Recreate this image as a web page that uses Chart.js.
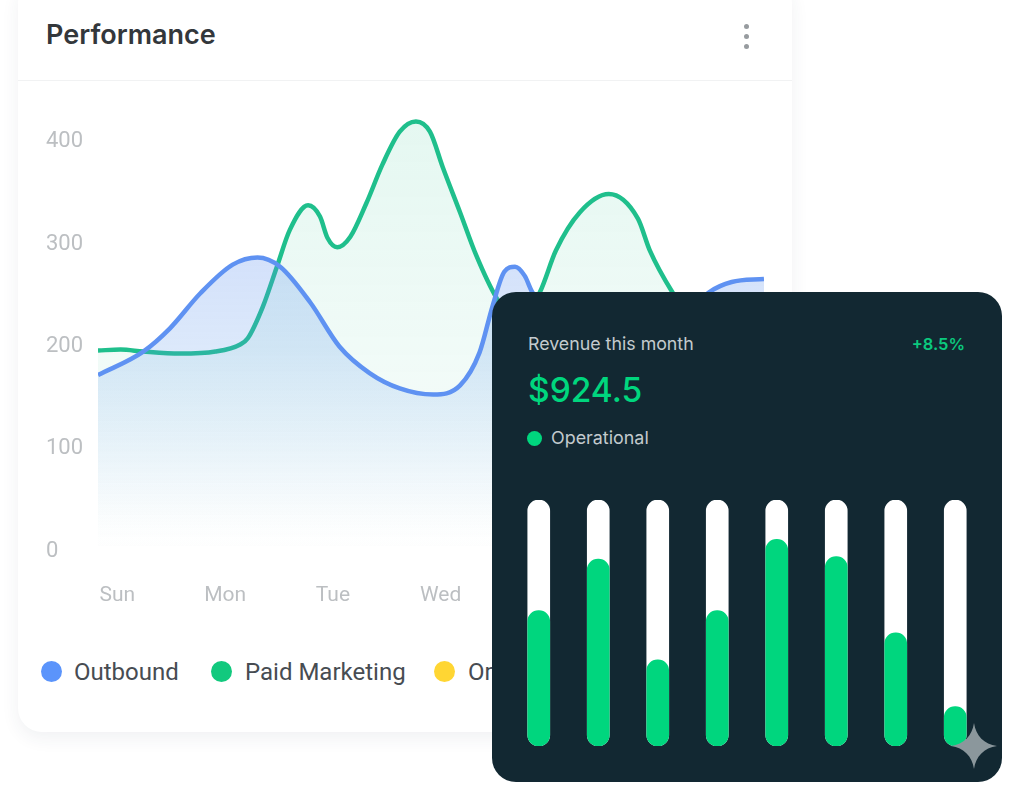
<!DOCTYPE html>
<html>
<head>
<meta charset="utf-8">
<title>Performance</title>
<script src="https://cdn.jsdelivr.net/npm/chart.js@4"></script>
<style>
  html, body { margin: 0; padding: 0; background: #fff; }
  body { position: relative; width: 1024px; height: 796px; overflow: hidden; font-family: Roboto, sans-serif; }
  .panel { position: absolute; left: 18px; top: -20px; width: 774px; height: 752px; background: #fff; border-radius: 24px; box-shadow: 0 6px 18px rgba(40, 60, 80, .07); }
  .divider { position: absolute; left: 18px; top: 80px; width: 774px; height: 1px; background: #f1f2f3; }
  .title { position: absolute; left: 46px; top: 18px; font: 600 27px/34px Inter, sans-serif; color: #33373b; }
  .kebab { position: absolute; left: 744px; top: 24px; width: 6px; }
  .kebab i { display: block; width: 5px; height: 5px; margin-bottom: 5px; border-radius: 50%; background: #979b9f; }
  #lineChart { position: absolute; left: 18px; top: 80px; }
  .legend-dot { position: absolute; top: 661px; width: 21px; height: 21px; border-radius: 50%; }
  .legend-text { position: absolute; top: 657px; font: 400 24px/30px Roboto, sans-serif; color: #474c52; white-space: nowrap; }
  .dark { position: absolute; left: 492px; top: 292px; width: 510px; height: 490px; background: #122832; border-radius: 24px; }
  #barChart { position: absolute; left: 492px; top: 490px; }
  .rev { position: absolute; left: 528px; top: 332px; font: 400 17.8px/24px Inter, sans-serif; color: #c3cbce; }
  .pct { position: absolute; right: 59px; top: 332px; font: 600 16.5px/24px Inter, sans-serif; color: #0bc97e; }
  .amount { position: absolute; left: 528px; top: 368px; font: 500 33.5px/44px Inter, sans-serif; color: #00d67e; }
  .status-dot { position: absolute; left: 527px; top: 431px; width: 15px; height: 15px; border-radius: 50%; background: #00d67e; }
  .status { position: absolute; left: 551px; top: 426px; font: 400 17.9px/24px Inter, sans-serif; color: #c3cbce; }
  .spark { position: absolute; left: 951px; top: 723px; }
</style>
</head>
<body>
<div class="panel"></div>
<div class="divider"></div>
<div class="title">Performance</div>
<div class="kebab"><i></i><i></i><i></i></div>
<canvas id="lineChart" width="774" height="540"></canvas>

<div class="legend-dot" style="left:41px;background:#5b94fb"></div>
<div class="legend-text" style="left:74px">Outbound</div>
<div class="legend-dot" style="left:211px;background:#12c97e"></div>
<div class="legend-text" style="left:245px">Paid Marketing</div>
<div class="legend-dot" style="left:434px;background:#ffd633"></div>
<div class="legend-text" style="left:468px">Organic</div>

<div class="dark"></div>
<div class="rev">Revenue this month</div>
<div class="pct">+8.5%</div>
<div class="amount">$924.5</div>
<div class="status-dot"></div>
<div class="status">Operational</div>
<canvas id="barChart" width="510" height="270"></canvas>

<svg class="spark" width="46" height="46" viewBox="0 0 46 46"><path d="M23 0C25 13 33 21 46 23C33 25 25 33 23 46C21 33 13 25 0 23C13 21 21 13 23 0Z" fill="#8b979c"/></svg>

<script>
const dayLabels = ["Sun", "Mon", "Tue", "Wed", "Thu", "Fri", "Sat"];
const dayTicks = [0, 1, 2, 3, 4, 5, 6];
const yTicks = [0, 100, 200, 300, 400];

const outboundDays = [-0.18, 0.24, 0.49, 0.77, 1.07, 1.30, 1.51, 1.79, 2.06, 2.34, 2.62, 2.93, 3.18, 3.36, 3.48, 3.59, 3.69, 3.78, 3.85, 4.29, 4.84, 5.21, 5.49, 5.70, 6];
const outboundValues = [172, 195, 218, 252, 280, 287, 278, 243, 200, 174, 159, 153, 162, 194, 239, 273, 278, 269, 253, 206, 197, 226, 253, 263, 266];

const paidDays = [-0.18, 0.03, 0.24, 0.58, 0.91, 1.14, 1.21, 1.35, 1.48, 1.60, 1.77, 1.88, 1.95, 2.04, 2.16, 2.31, 2.46, 2.62, 2.77, 2.90, 3.02, 3.18, 3.33, 3.52, 3.71, 3.92, 4.07, 4.29, 4.56, 4.83, 4.94, 5.15, 5.40, 5.68, 6];
const paidValues = [196, 197, 195, 193, 195, 202, 208, 239, 278, 314, 338, 327, 306, 297, 307, 340, 378, 410, 420, 410, 375, 331, 289, 247, 221, 253, 294, 331, 349, 325, 294, 253, 216, 202, 197];

const barLabels = ["1", "2", "3", "4", "5", "6", "7", "8"];
const barValues = [55, 76, 35, 55, 84, 77, 46, 16];
const barTrack = [100, 100, 100, 100, 100, 100, 100, 100];

function toPoints(xs, ys) {
  return xs.map((x, i) => ({ x: x, y: ys[i] }));
}

function blueFill(context) {
  const { ctx, chartArea } = context.chart;
  if (!chartArea) return "rgba(91,143,240,.2)";
  const g = ctx.createLinearGradient(0, chartArea.top, 0, chartArea.bottom);
  g.addColorStop(0.3, "rgba(90,140,240,.28)");
  g.addColorStop(0.55, "rgba(90,150,235,.21)");
  g.addColorStop(0.75, "rgba(100,155,240,.11)");
  g.addColorStop(0.94, "rgba(120,160,235,.01)");
  g.addColorStop(1, "rgba(120,160,235,0)");
  return g;
}

function greenFill(context) {
  const { ctx, chartArea } = context.chart;
  if (!chartArea) return "rgba(30,190,135,.1)";
  const g = ctx.createLinearGradient(0, chartArea.top, 0, chartArea.bottom);
  g.addColorStop(0, "rgba(30,190,135,.12)");
  g.addColorStop(0.7, "rgba(30,190,135,.05)");
  g.addColorStop(1, "rgba(30,190,135,0)");
  return g;
}

new Chart(document.getElementById("lineChart"), {
  type: "line",
  data: {
    datasets: [
      {
        label: "Outbound",
        data: toPoints(outboundDays, outboundValues),
        borderColor: "#5f92f2",
        backgroundColor: blueFill,
        borderWidth: 4.5,
        fill: "origin",
        pointRadius: 0,
        cubicInterpolationMode: "monotone"
      },
      {
        label: "Paid Marketing",
        data: toPoints(paidDays, paidValues),
        borderColor: "#1fbf8c",
        backgroundColor: greenFill,
        borderWidth: 4.5,
        fill: "origin",
        pointRadius: 0,
        cubicInterpolationMode: "monotone"
      }
    ]
  },
  options: {
    responsive: false,
    animation: false,
    layout: { padding: { left: 28, right: 28, top: 21, bottom: 0 } },
    plugins: { legend: { display: false }, tooltip: { enabled: false } },
    scales: {
      x: {
        type: "linear",
        bounds: "data",
        min: -0.18,
        max: 6,
        afterBuildTicks: axis => { axis.ticks = dayTicks.map(v => ({ value: v })); },
        afterFit: axis => { axis.height = 69; },
        // the gap under the plot comes from tickLength: a large ticks.padding also eats into the right side
        grid: { display: false, drawTicks: true, tickLength: 32 },
        border: { display: false },
        ticks: {
          callback: value => dayLabels[value],
          color: "#bcbfc2",
          font: { family: "Roboto", size: 21 },
          padding: 0,
          maxRotation: 0,
          autoSkip: false
        }
      },
      y: {
        min: 0,
        max: 440,
        afterBuildTicks: axis => { axis.ticks = yTicks.map(v => ({ value: v })); },
        afterFit: axis => { axis.width = 52; },
        grid: { display: false, drawTicks: false },
        border: { display: false },
        ticks: {
          color: "#bcbfc2",
          crossAlign: "far",
          font: { family: "Roboto", size: 22 }
        }
      }
    }
  }
});

new Chart(document.getElementById("barChart"), {
  type: "bar",
  data: {
    labels: barLabels,
    datasets: [
      { label: "Revenue", data: barValues, backgroundColor: "#00d67e", grouped: false, barThickness: 22, borderRadius: 11, borderSkipped: false },
      { label: "Track", data: barTrack, backgroundColor: "#ffffff", grouped: false, barThickness: 22, borderRadius: 11, borderSkipped: false }
    ]
  },
  options: {
    responsive: false,
    animation: false,
    layout: { padding: { left: 17, right: 17, top: 10, bottom: 14 } },
    plugins: { legend: { display: false }, tooltip: { enabled: false } },
    scales: {
      x: { display: false },
      y: { display: false, min: 0, max: 100 }
    }
  }
});
</script>
</body>
</html>
